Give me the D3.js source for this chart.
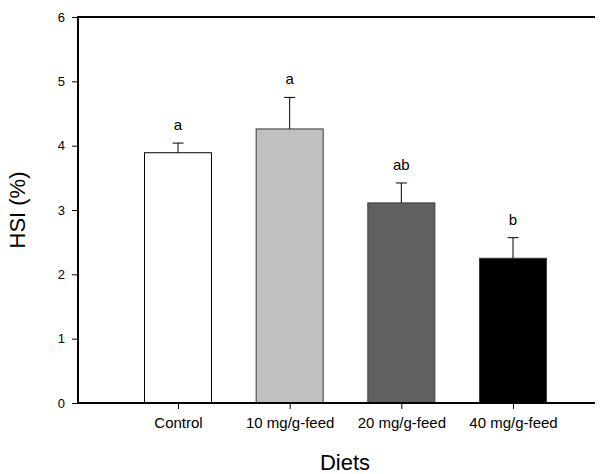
<!DOCTYPE html>
<html>
<head>
<meta charset="utf-8">
<script src="https://cdn.jsdelivr.net/npm/d3@7"></script>
<style>
  body { margin: 0; background: #fff; }
  text { font-family: "Liberation Sans", Arial, sans-serif; fill: #000; }
</style>
</head>
<body>
<script>
var diets = ['Control', '10 mg/g-feed', '20 mg/g-feed', '40 mg/g-feed'];
var hsi = [3.89, 4.26, 3.11, 2.25];
var hsiErr = [0.15, 0.49, 0.31, 0.32];
var letters = ['a', 'a', 'ab', 'b'];
var fills = ['#ffffff', '#c0c0c0', '#606060', '#000000'];
var yTicks = [0, 1, 2, 3, 4, 5, 6];

var width = 611, height = 474;
var plotLeft = 78, plotRight = 595, plotTop = 17, plotBottom = 403;
var barW = 67;

var svg = d3.select('body').append('svg')
  .attr('width', width)
  .attr('height', height);

var x = d3.scalePoint()
  .domain(diets)
  .range([178, 513]);

var y = d3.scaleLinear()
  .domain([0, 6])
  .range([plotBottom, plotTop]);

// bars
svg.selectAll('rect.bar')
  .data(diets)
  .enter().append('rect')
  .attr('class', 'bar')
  .attr('x', function(d) { return x(d) - barW / 2; })
  .attr('y', function(d, i) { return y(hsi[i]); })
  .attr('width', barW)
  .attr('height', function(d, i) { return y(0) - y(hsi[i]); })
  .style('fill', function(d, i) { return fills[i]; })
  .style('stroke', function(d, i) { return i == 0 ? '#000' : '#3a3a3a'; })
  .style('stroke-width', 1);

// error bars (upper only)
var err = svg.selectAll('g.err')
  .data(diets)
  .enter().append('g')
  .attr('class', 'err');

err.append('line')
  .attr('x1', function(d) { return x(d); })
  .attr('x2', function(d) { return x(d); })
  .attr('y1', function(d, i) { return y(hsi[i]); })
  .attr('y2', function(d, i) { return y(hsi[i] + hsiErr[i]); })
  .style('stroke', '#000');

err.append('line')
  .attr('x1', function(d) { return x(d) - 5.5; })
  .attr('x2', function(d) { return x(d) + 5.5; })
  .attr('y1', function(d, i) { return y(hsi[i] + hsiErr[i]); })
  .attr('y2', function(d, i) { return y(hsi[i] + hsiErr[i]); })
  .style('stroke', '#000');

// significance letters
svg.selectAll('text.sig')
  .data(diets)
  .enter().append('text')
  .attr('class', 'sig')
  .attr('x', function(d) { return x(d); })
  .attr('y', function(d, i) { return y(hsi[i] + hsiErr[i]) - 13; })
  .attr('text-anchor', 'middle')
  .style('font-size', '15px')
  .text(function(d, i) { return letters[i]; });

// axes
var yAxis = d3.axisLeft(y).tickValues(yTicks).tickFormat(d3.format('d'))
  .tickSize(6).tickPadding(7);
var gy = svg.append('g')
  .attr('transform', 'translate(' + plotLeft + ',0)')
  .call(yAxis);
gy.select('.domain').remove();
gy.selectAll('text').style('font-size', '13px');

var xAxis = d3.axisBottom(x).tickSize(5).tickPadding(9);
var gx = svg.append('g')
  .attr('transform', 'translate(0,' + plotBottom + ')')
  .call(xAxis);
gx.select('.domain').remove();
gx.selectAll('line').attr('transform', 'translate(0,1)');
gx.selectAll('text').style('font-size', '15px');

// frame: left, bottom, top
svg.append('line')
  .attr('x1', plotLeft).attr('x2', plotLeft)
  .attr('y1', plotTop - 1).attr('y2', plotBottom + 1)
  .style('stroke', '#000').style('stroke-width', 2);
svg.append('line')
  .attr('x1', plotLeft - 1).attr('x2', plotRight)
  .attr('y1', plotBottom).attr('y2', plotBottom)
  .style('stroke', '#000').style('stroke-width', 2);
svg.append('line')
  .attr('x1', plotLeft - 1).attr('x2', plotRight)
  .attr('y1', plotTop).attr('y2', plotTop)
  .style('stroke', '#000').style('stroke-width', 2);

// titles
svg.append('text')
  .attr('x', 345)
  .attr('y', 470)
  .attr('text-anchor', 'middle')
  .style('font-size', '22px')
  .text('Diets');

svg.append('text')
  .attr('transform', 'translate(25,' + (plotTop + plotBottom) / 2 + ') rotate(-90)')
  .attr('text-anchor', 'middle')
  .style('font-size', '22px')
  .text('HSI (%)');
</script>
</body>
</html>
